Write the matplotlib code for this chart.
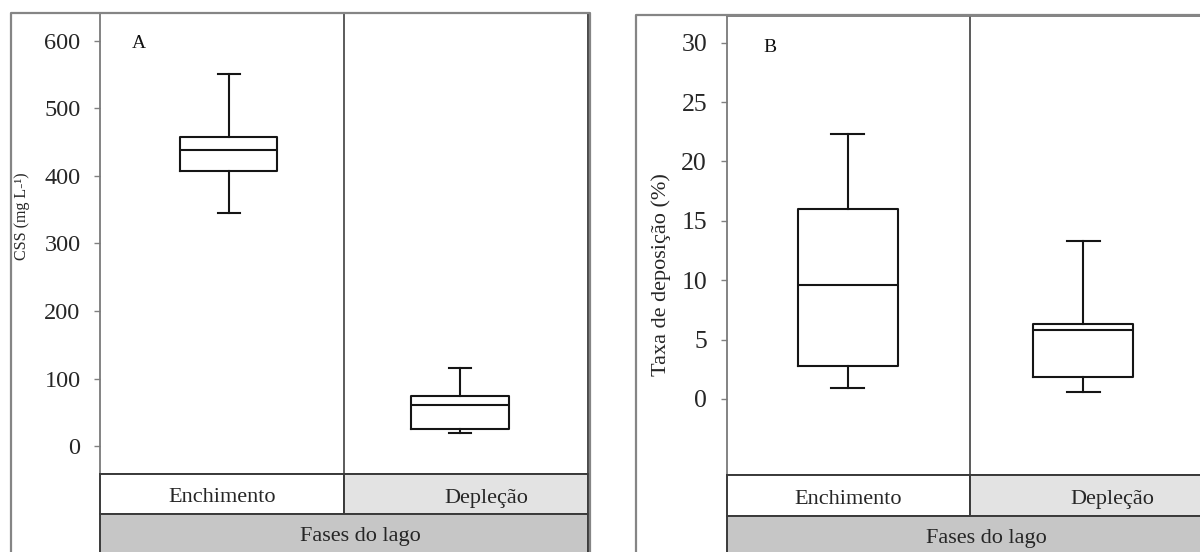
import matplotlib
matplotlib.use('Agg')
import matplotlib.pyplot as plt
from matplotlib.patches import Rectangle
from matplotlib.lines import Line2D

plt.rcParams['font.family'] = ['Liberation Serif', 'DejaVu Serif']

# ---------------- data ----------------
categories = ['Enchimento', 'Depleção']
group_label = 'Fases do lago'

# Panel A: CSS (mg L-1)
css_whislo = [345, 19]
css_q1 = [407, 25]
css_med = [438, 61]
css_q3 = [457, 75]
css_whishi = [550, 116]
css_ticks = [0, 100, 200, 300, 400, 500, 600]

# Panel B: Taxa de deposição (%)
dep_whislo = [0.9, 0.55]
dep_q1 = [2.8, 1.8]
dep_med = [9.6, 5.8]
dep_q3 = [16.0, 6.3]
dep_whishi = [22.3, 13.3]
dep_ticks = [0, 5, 10, 15, 20, 25, 30]

# ---------------- layout helpers ----------------
W, H = 1200, 552
fig = plt.figure(figsize=(W / 100, H / 100), dpi=100)


def fx(x):
    return x / W


def fy(y):
    return 1 - y / H


def fig_line(xs, ys, color, lw):
    fig.add_artist(Line2D([fx(x) for x in xs], [fy(y) for y in ys],
                          transform=fig.transFigure, color=color, lw=lw,
                          solid_capstyle='butt'))


def fig_rect(x0, y0, x1, y1, fc, ec='#3a3a3a', lw=1.4):
    fig.add_artist(Rectangle((fx(x0), fy(y1)), fx(x1) - fx(x0), fy(y0) - fy(y1),
                             transform=fig.transFigure, facecolor=fc,
                             edgecolor=ec, lw=lw))


def panel(frame, plot, strip_bottom, whislo, q1, med, q3, whishi, ticks,
          ylim, positions, boxw, capw, ticksize, ylabel, ylabel_pos, ylabel_size,
          letter, letter_pos):
    fl, ft, fr = frame
    pl, pt, pr, pb = plot
    # outer gray frame
    fig_line([fl, fl, fr, fr], [H + 5, ft, ft, H + 5], '#858585', 1.6)

    ax = fig.add_axes([fx(pl), fy(pb), fx(pr) - fx(pl), fy(pt) - fy(pb)])
    stats = []
    for i, c in enumerate(categories):
        stats.append(dict(label=c, whislo=whislo[i], q1=q1[i], med=med[i],
                          q3=q3[i], whishi=whishi[i], fliers=[]))
    ax.bxp(stats, positions=positions, widths=boxw, capwidths=capw,
           showfliers=False,
           boxprops=dict(color='#151515', lw=1.5),
           medianprops=dict(color='#151515', lw=1.5),
           whiskerprops=dict(color='#151515', lw=1.5),
           capprops=dict(color='#151515', lw=1.5))
    ax.set_xlim(0, 2)
    ax.set_ylim(*ylim)
    ax.axvline(1.0, color='#404040', lw=1.2)
    ax.set_xticks([])
    ax.set_yticks(ticks)
    ax.set_yticklabels([str(t) for t in ticks])
    ax.tick_params(axis='y', direction='out', length=4, width=1, color='#808080',
                   pad=10, labelsize=ticksize, labelcolor='#262626')
    for s in ['left', 'top']:
        ax.spines[s].set_color('#7a7a7a')
        ax.spines[s].set_linewidth(1.3)
    for s in ['right', 'bottom']:
        ax.spines[s].set_color('#3a3a3a')
        ax.spines[s].set_linewidth(1.3)

    # category strip
    mid = pl + (pr - pl) / 2
    fig_rect(pl, pb, mid, strip_bottom, 'white')
    fig_rect(mid, pb, pr, strip_bottom, '#e3e3e3')
    cy = (pb + strip_bottom) / 2 + 4
    fig.text(fx((pl + mid) / 2), fy(cy), categories[0], ha='center', va='center',
             fontsize=16, color='#262626')
    fig.text(fx((mid + pr) / 2 + 20), fy(cy), categories[1], ha='center', va='center',
             fontsize=16, color='#262626')
    # group strip
    fig_rect(pl, strip_bottom, pr, H + 10, '#c6c6c6')
    fig.text(fx((pl + pr) / 2 + 16), fy(strip_bottom + 22), group_label, ha='center',
             va='center', fontsize=16, color='#262626')

    fig.text(fx(ylabel_pos[0]), fy(ylabel_pos[1]), ylabel, rotation=90,
             ha='center', va='center', fontsize=ylabel_size, color='#262626')
    fig.text(fx(letter_pos[0]), fy(letter_pos[1]), letter, ha='center', va='center',
             fontsize=14, color='#111111')
    return ax


# Panel A
panel(frame=(10.5, 13.3, 590), plot=(100, 13.3, 588, 474), strip_bottom=514,
      whislo=css_whislo, q1=css_q1, med=css_med, q3=css_q3, whishi=css_whishi,
      ticks=css_ticks, ylim=(-41, 640.5), positions=[0.527, 1.475], boxw=0.40,
      capw=0.09, ticksize=17.5, ylabel='CSS (mg L-¹)', ylabel_pos=(22, 216),
      ylabel_size=11.5, letter='A', letter_pos=(139, 43))

# Panel B
panel(frame=(635.5, 14.7, 1260), plot=(726.5, 16, 1214, 475.4), strip_bottom=516,
      whislo=dep_whislo, q1=dep_q1, med=dep_med, q3=dep_q3, whishi=dep_whishi,
      ticks=dep_ticks, ylim=(-6.45, 32.26), positions=[0.498, 1.463], boxw=0.41,
      capw=0.135, ticksize=18.5, ylabel='Taxa de deposição (%)', ylabel_pos=(661, 275),
      ylabel_size=16, letter='B', letter_pos=(770, 47))

fig.savefig('out.png', dpi=100)
